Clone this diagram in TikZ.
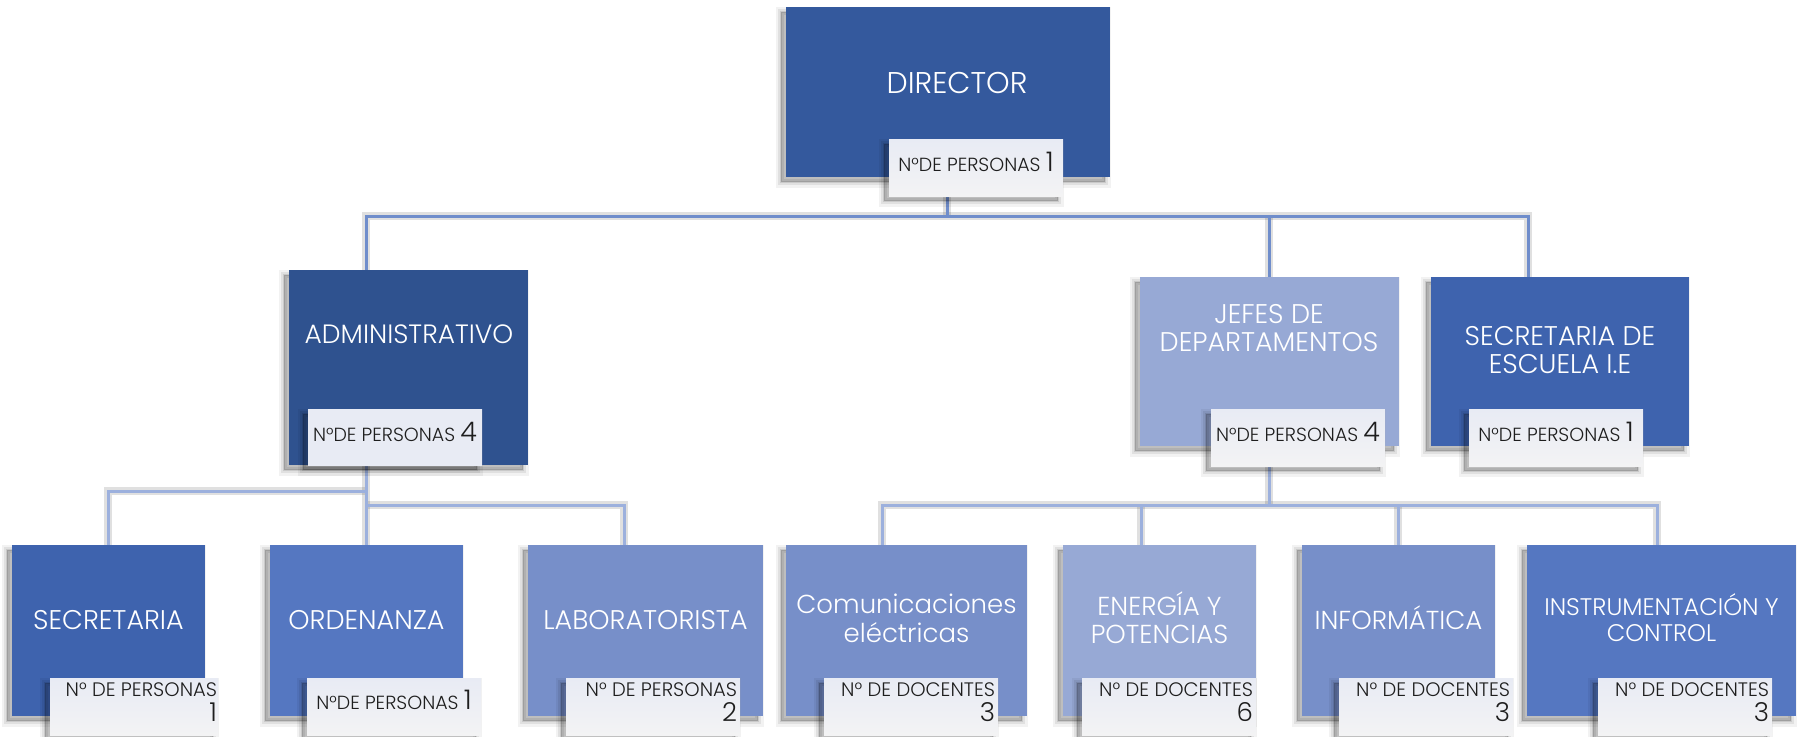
\documentclass[tikz,border=0pt]{standalone}
\usepackage{fontspec}
\IfFontExistsTF{Poppins Light}{\setmainfont{Poppins Light}}{\setmainfont{Poppins}}
\usetikzlibrary{shadows}
\definecolor{cDir}{HTML}{34599D}
\definecolor{cAdm}{HTML}{2F528F}
\definecolor{cLight}{HTML}{97A9D5}
\definecolor{cMid}{HTML}{3E63AE}
\definecolor{cBlue}{HTML}{5577C1}
\definecolor{cSoft}{HTML}{778FC9}
\definecolor{lineTop}{HTML}{6F8DCB}
\definecolor{lineLow}{HTML}{9CB0DD}
\definecolor{labTop}{HTML}{E8EBF4}
\definecolor{labBot}{HTML}{F3F3F4}
\definecolor{txtDark}{HTML}{1E1E1E}
\pgfdeclarelayer{bg}
\pgfdeclarelayer{paper}
\pgfsetlayers{paper,bg,main}
\tikzset{
  shd/.style={
    general shadow={shadow xshift=-5pt, shadow yshift=-5pt, fill=black, draw=black, line width=11pt, opacity=0.05},
    general shadow={shadow xshift=-5pt, shadow yshift=-5pt, fill=black, draw=black, line width=6pt, opacity=0.07},
    general shadow={shadow xshift=-5pt, shadow yshift=-5pt, fill=black, draw=black, line width=1.5pt, opacity=0.10}},
  box/.style={rectangle, inner sep=0pt, draw=none, shd},
  lab/.style={rectangle, inner sep=0pt, draw=none, minimum width=174pt, minimum height=57pt,
    top color=labTop, bottom color=labBot, shd},
  btext/.style={text=white, inner sep=0pt, align=center, font=\fontsize{27}{28}\selectfont},
  ltext/.style={text=txtDark, inner sep=0pt, anchor=base, font=\fontsize{19}{20}\selectfont},
  rtext/.style={text=txtDark, inner sep=0pt, anchor=north east, align=right, font=\fontsize{19.5}{25}\selectfont},
  topline/.style={draw=lineTop, line width=3pt},
  lowline/.style={draw=lineLow, line width=3pt},
  lineshd/.style={draw=black, opacity=0.12, line width=8pt, xshift=-4pt, yshift=-4pt},
}
\newcommand{\bignum}[1]{{\fontsize{27}{28}\selectfont #1}}
\newcommand{\botnum}[1]{{\fontsize{26}{25}\selectfont #1}}
\begin{document}
\begin{tikzpicture}[x=1pt,y=-1pt]
\useasboundingbox (0,0) rectangle (1811,736);
\begin{pgfonlayer}{paper}
\fill[white] (0,0) rectangle (1811,736);
\end{pgfonlayer}
% ---- top level
\node[box, fill=cDir, minimum width=324pt, minimum height=170pt] (dir) at (948,92) {};
\node[lab, minimum height=57pt] (dirL) at (976,167.5) {};
% ---- second level
\node[box, fill=cAdm, minimum width=239pt, minimum height=195pt] (adm) at (408.5,367.5) {};
\node[lab, minimum height=56pt, top color=labTop, bottom color=labTop] (admL) at (395,437) {};
\node[box, fill=cLight, minimum width=259pt, minimum height=169pt] (jef) at (1269.5,361.5) {};
\node[lab] (jefL) at (1298,437.5) {};
\node[box, fill=cMid, minimum width=258pt, minimum height=169pt] (sec) at (1560,361.5) {};
\node[lab] (secL) at (1556,437.5) {};
% ---- bottom level
\node[box, fill=cMid, minimum width=193pt, minimum height=171pt] (secr) at (108.5,630.5) {};
\node[lab, minimum width=168pt] (secrL) at (134,706.5) {};
\node[box, fill=cBlue, minimum width=193pt, minimum height=171pt] (ord) at (366.5,630.5) {};
\node[lab] (ordL) at (394,706.5) {};
\node[box, fill=cSoft, minimum width=235pt, minimum height=171pt] (labo) at (645.5,630.5) {};
\node[lab] (laboL) at (653,706.5) {};
\node[box, fill=cSoft, minimum width=241pt, minimum height=171pt] (com) at (906.5,630.5) {};
\node[lab] (comL) at (911,706.5) {};
\node[box, fill=cLight, minimum width=193pt, minimum height=171pt] (ene) at (1159.5,630.5) {};
\node[lab] (eneL) at (1169,706.5) {};
\node[box, fill=cSoft, minimum width=193pt, minimum height=171pt] (inf) at (1398.5,630.5) {};
\node[lab] (infL) at (1426,706.5) {};
\node[box, fill=cBlue, minimum width=269pt, minimum height=171pt] (ins) at (1661.5,630.5) {};
\node[lab] (insL) at (1685,706.5) {};
% ---- box texts
\node[btext, anchor=base, font=\fontsize{30}{32}\selectfont] (dirT) at (957,93) {DIRECTOR};
\node[btext, anchor=base, font=\fontsize{26.5}{28}\selectfont] (admT) at (409,343) {ADMINISTRATIVO};
\node[btext] (jefT) at (1269,328) {JEFES DE\\DEPARTAMENTOS};
\node[btext] (secT) at (1560,350) {SECRETARIA DE\\ESCUELA I.E};
\node[btext, anchor=base] (secrT) at (108.5,629) {SECRETARIA};
\node[btext, anchor=base] (ordT) at (366.5,629) {ORDENANZA};
\node[btext, anchor=base] (laboT) at (645.5,629) {LABORATORISTA};
\node[btext, font=\fontsize{26}{29}\selectfont] (comT) at (906.5,618) {Comunicaciones\\eléctricas};
\node[btext, font=\fontsize{26}{28}\selectfont] (eneT) at (1159.5,618) {ENERGÍA Y\\POTENCIAS};
\node[btext, anchor=base, font=\fontsize{26}{28}\selectfont] (infT) at (1398.5,629) {INFORMÁTICA};
\node[btext, font=\fontsize{24}{26}\selectfont] (insT) at (1661.5,618) {INSTRUMENTACIÓN Y\\CONTROL};
% ---- label texts
\node[ltext] (dirN) at ([yshift=-33pt]dirL.north) {N°DE PERSONAS \bignum{1}};
\node[ltext] (admN) at ([yshift=-33pt]admL.north) {N°DE PERSONAS \bignum{4}};
\node[ltext] (jefN) at ([yshift=-33pt]jefL.north) {N°DE PERSONAS \bignum{4}};
\node[ltext] (secN) at ([yshift=-33pt]secL.north) {N°DE PERSONAS \bignum{1}};
\node[ltext] (ordN) at ([yshift=-32pt]ordL.north) {N°DE PERSONAS \bignum{1}};
\node[rtext] (secrN) at ([xshift=-1pt,yshift=-5pt]secrL.north east) {N° DE PERSONAS\\\botnum{1}};
\node[rtext] (laboN) at ([xshift=-3pt,yshift=-5pt]laboL.north east) {N° DE PERSONAS\\\botnum{2}};
\node[rtext] (comN) at ([xshift=-3pt,yshift=-5pt]comL.north east) {N° DE DOCENTES\\\botnum{3}};
\node[rtext] (eneN) at ([xshift=-3pt,yshift=-5pt]eneL.north east) {N° DE DOCENTES\\\botnum{6}};
\node[rtext] (infN) at ([xshift=-3pt,yshift=-5pt]infL.north east) {N° DE DOCENTES\\\botnum{3}};
\node[rtext] (insN) at ([xshift=-3pt,yshift=-5pt]insL.north east) {N° DE DOCENTES\\\botnum{3}};
% ---- connectors (behind)
\coordinate (tD) at (947,216);
\coordinate (tA) at (366,216);
\coordinate (tJ) at (1269,216);
\coordinate (tS) at (1528,216);
\coordinate (aB1) at (366,491);
\coordinate (aB2) at (366,505);
\coordinate (aS) at (108,491);
\coordinate (aL) at (624,505);
\coordinate (jB) at (1269,505);
\coordinate (jC) at (882,505);
\coordinate (jE) at (1141,505);
\coordinate (jI) at (1398,505);
\coordinate (jN) at (1657,505);
\begin{pgfonlayer}{bg}
  \foreach \st in {lineshd, topline}{
    \draw[\st] (dirL.south -| tD) -- (tD);
    \draw[\st] (tA |- adm.north) -- (tA) -- (tS) -- (tS |- sec.north);
    \draw[\st] (tJ) -- (tJ |- jef.north);
  }
  \foreach \st in {lineshd, lowline}{
    \draw[\st] (admL.south -| aB2) -- (aB2 |- ord.north);
    \draw[\st] (aS |- secr.north) -- (aS) -- (aB1);
    \draw[\st] (aB2) -- (aL) -- (aL |- labo.north);
    \draw[\st] (jefL.south -| jB) -- (jB);
    \draw[\st] (jC |- com.north) -- (jC) -- (jN) -- (jN |- ins.north);
    \draw[\st] (jE) -- (jE |- ene.north);
    \draw[\st] (jI) -- (jI |- inf.north);
  }
\end{pgfonlayer}
\end{tikzpicture}
\end{document}
